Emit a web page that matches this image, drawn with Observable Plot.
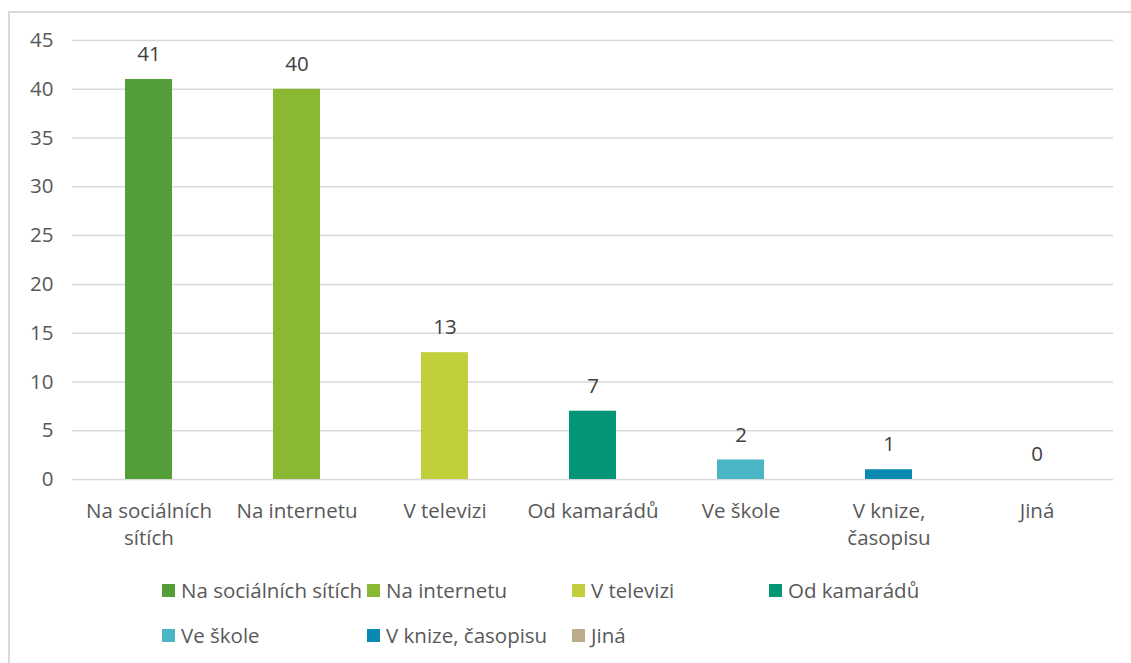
<!DOCTYPE html>
<html><head><meta charset="utf-8">
<script src="https://cdn.jsdelivr.net/npm/d3@7"></script>
<script src="https://cdn.jsdelivr.net/npm/@observablehq/plot@0.6"></script>
<style>
body{margin:0;background:#fff;font-family:"Open Sans",sans-serif;}
#frame{position:absolute;left:8px;top:11px;width:1130px;height:660px;border:2px solid #d9d9d9;box-sizing:border-box;}
#chart{position:absolute;left:0;top:0;}
#legend{position:absolute;left:162px;top:576px;width:840px;display:grid;grid-template-columns:205px 205px 197px 230px;row-gap:17px;font-size:20.5px;color:#595959;}
.item{display:flex;align-items:center;white-space:nowrap;}
.sw{width:13px;height:13px;margin-right:6px;flex:none;}
</style></head><body>
<div id="frame"></div>
<div id="chart"></div>
<div id="legend"></div>
<script>
const categories = ["Na sociálních sítích","Na internetu","V televizi","Od kamarádů","Ve škole","V knize, časopisu","Jiná"];
const tickLabels = ["Na sociálních\nsítích","Na internetu","V televizi","Od kamarádů","Ve škole","V knize,\nčasopisu","Jiná"];
const values = [41,40,13,7,2,1,0];
const colors = ["#549E39","#8AB833","#C0CF3A","#029676","#4AB5C4","#0989B1","#BBAD89"];
const yTicks = [0,5,10,15,20,25,30,35,40,45];

const data = categories.map((c,i)=>({cat:c,value:values[i]}));
const labelOf = new Map(categories.map((c,i)=>[c,tickLabels[i]]));
const fs = 20.5;

const plot = Plot.plot({
  width:1131, height:560,
  marginTop:40, marginBottom:81, marginLeft:72, marginRight:18,
  style:{fontFamily:"'Open Sans',sans-serif",fontSize:fs+"px",color:"#595959",background:"transparent"},
  x:{domain:categories, paddingInner:0.68, paddingOuter:0.34, align:0.5},
  y:{domain:[0,45]},
  color:{domain:categories, range:colors},
  marks:[
    Plot.ruleY(yTicks,{stroke:"#d9d9d9",strokeWidth:1.5}),
    Plot.barY(data,{x:"cat",y:"value",fill:"cat"}),
    Plot.text(data,{x:"cat",y:"value",text:d=>String(d.value),dy:-25,fill:"#404040",fontSize:fs}),
    Plot.axisY({ticks:yTicks,tickSize:0,tickPadding:19,label:null,fontSize:fs,fill:"#595959"}),
    Plot.axisX({tickSize:0,tickPadding:20,label:null,tickFormat:d=>labelOf.get(d),lineHeight:1.3,fontSize:fs,fill:"#595959",lineAnchor:"top"})
  ]
});
document.getElementById("chart").appendChild(plot);

const leg = document.getElementById("legend");
categories.forEach((c,i)=>{
  const it=document.createElement("div");it.className="item";
  const sw=document.createElement("span");sw.className="sw";sw.style.background=colors[i];
  const t=document.createElement("span");t.textContent=c;
  it.appendChild(sw);it.appendChild(t);leg.appendChild(it);
});
</script>
</body></html>
